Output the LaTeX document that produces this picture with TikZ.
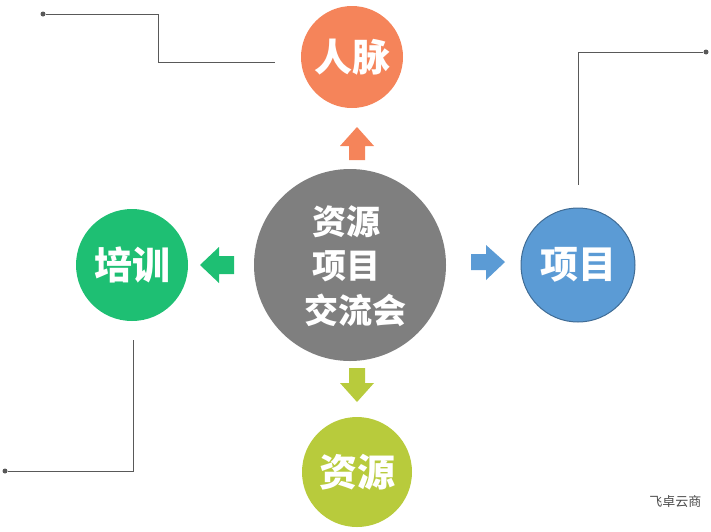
\documentclass[tikz,border=0pt]{standalone}
\usepackage{fontspec}
\newfontfamily\cjk{Noto Sans CJK SC}
\begin{document}
\begin{tikzpicture}[x=1pt,y=-1pt,
  circ/.style={circle,inner sep=0pt,text=white,font=\cjk\bfseries\fontsize{38}{40}\selectfont},
  ctext/.style={text=white,anchor=west,inner sep=0pt,font=\cjk\bfseries\fontsize{34}{36}\selectfont},
  lead/.style={draw=black!65,line width=0.8pt},
  dot/.style={circle,fill=black!65,inner sep=0pt,minimum size=5pt}]
\useasboundingbox (0,0) rectangle (711,531);
\definecolor{org}{HTML}{F5845A}\definecolor{grn}{HTML}{1EBF73}
\definecolor{blu}{HTML}{5B9BD5}\definecolor{ylw}{HTML}{B8CB3C}\definecolor{gry}{HTML}{7F7F7F}
\node[circ,fill=gry,minimum size=192pt] (c) at (350,265) {};
\node[ctext] (c1) at (312,222) {资源};
\node[ctext] (c2) at (312,266) {项目};
\node[ctext] (c3) at (304,310) {交流会};
\node[circ,fill=org,minimum size=102pt] (t) at (352,57) {人脉};
\node[circ,fill=grn,minimum size=112pt] (l) at (132,265) {培训};
\node[circ,fill=blu,draw=blu!70!black,line width=1pt,minimum size=114pt] (r) at (578,265) {项目};
\node[circ,fill=ylw,minimum size=110pt] (b) at (357,472) {资源};
% block arrows
\fill[org] (349,160)--(349,146)--(340,146)--(357,127)--(374,146)--(365,146)--(365,160)--cycle;
\fill[grn] (234,256)--(219,256)--(219,247)--(200,265)--(219,283)--(219,274)--(234,274)--cycle;
\fill[blu] (471,254)--(486,254)--(486,245)--(505,262)--(486,280)--(486,270)--(471,270)--cycle;
\fill[ylw] (349,368)--(349,383)--(340,383)--(357,402)--(374,383)--(365,383)--(365,368)--cycle;
% leader lines
\node[dot] (d1) at (43,14) {}; \coordinate (e1) at (275,62);
\draw[lead] (d1) -- (158,14) -- (158,62) -- (e1);
\node[dot] (d2) at (706,52) {}; \coordinate (e2) at (578,185);
\draw[lead] (d2) -- (578,52) -- (e2);
\node[dot] (d3) at (5,471) {}; \coordinate (e3) at (133,340);
\draw[lead] (d3) -- (133,471) -- (e3);
\node[font=\cjk\fontsize{13}{14}\selectfont,text=black!70,anchor=east] (w) at (705,502) {飞卓云商};
\end{tikzpicture}
\end{document}
